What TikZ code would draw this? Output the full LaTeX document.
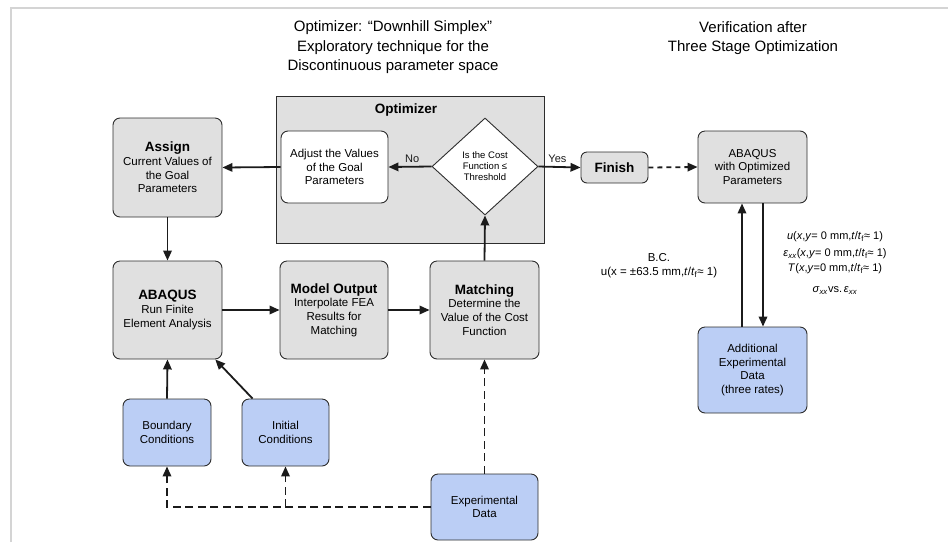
\documentclass[tikz,border=0pt]{standalone}
\usepackage{fontspec}
\setmainfont{Liberation Sans}
\usetikzlibrary{arrows.meta,shapes.geometric}
\definecolor{boxgray}{RGB}{224,224,224}
\definecolor{boxblue}{RGB}{187,206,245}
\definecolor{edgegray}{RGB}{45,45,45}
\definecolor{framegray}{RGB}{212,212,212}
\newcommand{\ttl}[1]{{\fontsize{13.5}{14}\selectfont\bfseries #1}}
\newcommand{\subxx}{\textsubscript{\textit{xx}}}
\newcommand{\ttf}{\textit{t}/\textit{t}\textsubscript{f}}

\begin{document}
\begin{tikzpicture}[x=1pt,y=-1pt,
    stage/.style={rectangle,rounded corners=7pt,draw=edgegray,line width=0.9pt,fill=boxgray,
      align=center,inner sep=2pt,font=\fontsize{11.5}{13.7}\selectfont},
    datab/.style={stage,fill=boxblue},
    flow/.style={line width=1.8pt,-{Triangle[length=10pt,width=8.5pt]}},
    dataflow/.style={flow,dash pattern=on 8pt off 4.5pt},
    note/.style={align=center,font=\fontsize{11}{15}\selectfont}]
  \useasboundingbox (0,0) rectangle (948,542);
  \draw[framegray,line width=1.2pt] (11,542) -- (11,8) -- (948,8);

  % titles:
  \node[align=center,font=\fontsize{15}{19.5}\selectfont] (titleopt) at (393,47.5)
    {Optimizer: “Downhill Simplex”\\Exploratory technique for the\\Discontinuous parameter space};
  \node[align=center,font=\fontsize{15}{19.5}\selectfont] (titlever) at (753,38)
    {Verification after\\Three Stage Optimization};

  % optimizer block:
  \node[rectangle,draw=edgegray,line width=0.9pt,fill=boxgray,minimum width=268pt,minimum height=147pt] (optbox) at (410,169.5) {};
  \node (opttitle) at (406,110) {\ttl{Optimizer}};
  \node[stage,fill=white,minimum width=107pt,minimum height=72pt] (adjust) at (334.5,167)
    {Adjust the Values\\of the Goal\\Parameters};
  \node[diamond,draw=edgegray,line width=0.9pt,fill=white,aspect=1.09,inner sep=0pt,
    minimum width=106pt,minimum height=97pt,align=center,font=\fontsize{9.5}{11}\selectfont] (cost) at (485,166.5)
    {Is the Cost\\Function ≤\\Threshold};

  % main loop:
  \node[stage,minimum width=109pt,minimum height=99pt] (assign) at (167.5,167.5)
    {\ttl{Assign}\\Current Values of\\the Goal\\Parameters};
  \node[stage,minimum width=109pt,minimum height=98pt] (abaqus) at (167.5,310)
    {\ttl{ABAQUS}\\Run Finite\\Element Analysis};
  \node[stage,minimum width=108pt,minimum height=98pt] (model) at (334,310)
    {\ttl{Model Output}\\Interpolate FEA\\Results for\\Matching};
  \node[stage,minimum width=109pt,minimum height=98pt] (match) at (484.5,310)
    {\ttl{Matching}\\Determine the\\Value of the Cost\\Function};
  \node[stage,rounded corners=6pt,minimum width=67pt,minimum height=31pt] (finish) at (614.5,167.5)
    {\ttl{Finish}};

  % data:
  \node[datab,minimum width=88pt,minimum height=67pt] (bc) at (167,432.5) {Boundary\\Conditions};
  \node[datab,minimum width=87pt,minimum height=67pt] (ic) at (285.5,432.5) {Initial\\Conditions};
  \node[datab,minimum width=107pt,minimum height=66pt] (expdata) at (484.5,507) {Experimental\\Data};

  % verification:
  \node[stage,minimum width=109pt,minimum height=72pt] (abaopt) at (752.5,167)
    {ABAQUS\\with Optimized\\Parameters};
  \node[datab,minimum width=109pt,minimum height=86pt] (addexp) at (752.5,370)
    {Additional\\Experimental\\Data\\(three rates)};
  \node[note,font=\fontsize{11.5}{14}\selectfont] (bclabel) at (659,266) {B.C.\\u(x = ±63.5 mm,\ttf≈ 1)};
  \node[note] (outlabel) at (835,263)
    {\textit{u}(\textit{x},\textit{y}= 0 mm,\ttf≈ 1)\\[2pt]
     \textit{ε}\subxx(\textit{x},\textit{y}= 0 mm,\ttf≈ 1)\\
     \textit{T}(\textit{x},\textit{y}=0 mm,\ttf≈ 1)\\[6pt]
     \textit{σ}\subxx vs.\,\textit{ε}\subxx};

  \begin{scope}[edgegray!60!black]
    % solid flow:
    \draw[flow] (cost.west) -- node[above,pos=0.45,font=\fontsize{11}{13}\selectfont] {No} (adjust.east);
    \draw[flow] (adjust.west) -- (assign.east);
    \draw[flow] (assign.south) -- (abaqus.north);
    \draw[flow] (abaqus.east) -- (model.west);
    \draw[flow] (model.east) -- (match.west);
    \draw[flow] (match.north) -- (cost.south);
    \draw[flow] (cost.east) -- node[above,pos=0.45,font=\fontsize{11}{13}\selectfont] {Yes} (finish.west);
    \draw[flow] (bc.north) -- (abaqus.south);
    \draw[flow] ([xshift=11pt]ic.north west) -- (abaqus.-46);
    \draw[flow] ([xshift=-10.5pt]addexp.north) -- ([xshift=-10.5pt]abaopt.south);
    \draw[flow] ([xshift=10.5pt]abaopt.south) -- ([xshift=10.5pt]addexp.north);
    % dashed flow:
    \draw[dataflow,dash pattern=on 5pt off 4pt] (finish.east) -- (abaopt.west);
    \draw[dataflow] (expdata.north) -- (match.south);
    \draw[dataflow] (expdata.west) -| (bc.south);
    \draw[dataflow] (ic.south |- expdata.west) -- (ic.south);
  \end{scope}
\end{tikzpicture}
\end{document}
